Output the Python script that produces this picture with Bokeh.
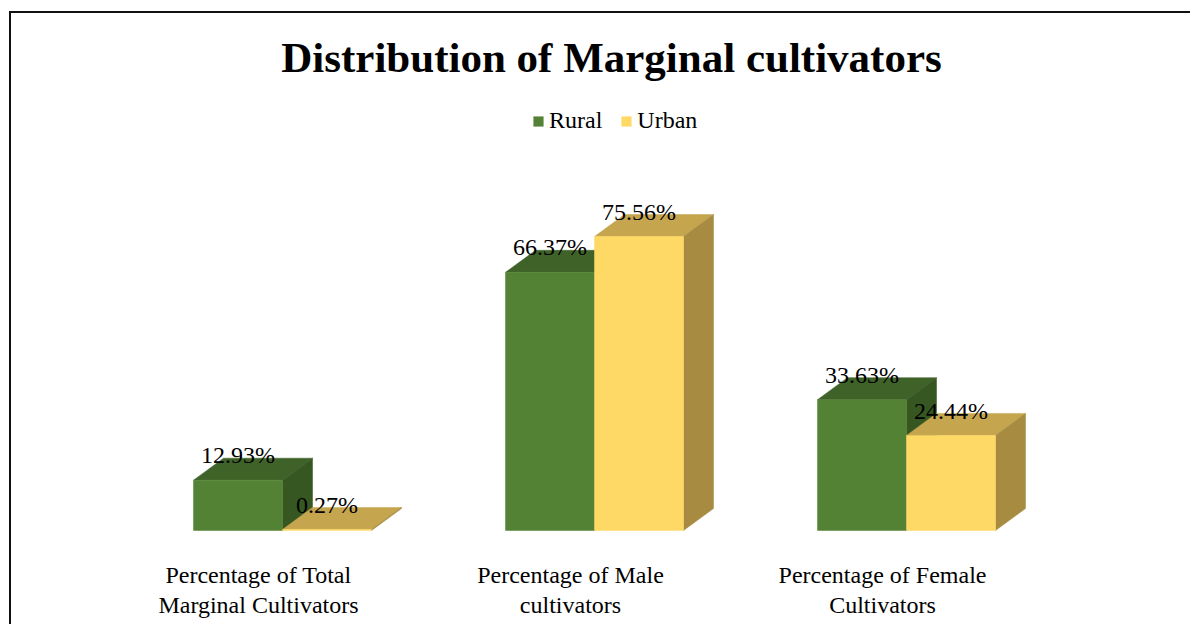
import numpy as np
from bokeh.plotting import figure
from bokeh.models import Range1d, Legend, LegendItem, Label, ColumnDataSource
from bokeh.core.properties import value
from bokeh.embed import file_html
from bokeh.resources import INLINE

# ---- data ----
categories = ["Percentage of Total\nMarginal Cultivators",
              "Percentage of Male\ncultivators",
              "Percentage of Female\nCultivators"]
rural = [12.93, 66.37, 33.63]
urban = [0.27, 75.56, 24.44]
series_names = ["Rural", "Urban"]
title_text = "Distribution of Marginal cultivators"

# ---- layout constants (pixels) ----
W, H = 1190, 624
PX_PER_X = 312.0          # pixels per category step
PX_PER_Y = 3.89           # pixels per percent
X0_PX = 282.0             # canvas x of first group center
BASE_PX = 530.0           # canvas y of baseline
FS = 24                   # small text size (px)
MID = 0.35                # middle-baseline offset (em)

def dx(px):
    return px / PX_PER_X

def dy(px):
    return px / PX_PER_Y

x_start = -X0_PX / PX_PER_X
x_end = (W - X0_PX) / PX_PER_X
y_start = -(H - BASE_PX) / PX_PER_Y
y_end = BASE_PX / PX_PER_Y

p = figure(width=W, height=H, output_backend="svg", toolbar_location=None,
           x_range=Range1d(x_start, x_end), y_range=Range1d(y_start, y_end),
           x_axis_type=None, y_axis_type=None, min_border=0)
p.outline_line_color = None
p.grid.visible = False
p.background_fill_color = "white"
p.border_fill_color = "white"

bar_w = dx(89)
depth_x = dx(30)
depth_y = dy(22)

colors = {
    "Rural": ("#548235", "#3f6229", "#365622"),
    "Urban": ("#ffd966", "#c5a64f", "#a68b40"),
}

idx = np.arange(len(categories), dtype=float)
front_renderers = []
for s, vals in zip(series_names, [rural, urban]):
    front, top, side = colors[s]
    lefts = idx - bar_w if s == "Rural" else idx
    rights = lefts + bar_w
    xs, ys = [], []
    sxs, sys_ = [], []
    for l, r, v in zip(lefts, rights, vals):
        xs.append([l, r, r + depth_x, l + depth_x])
        ys.append([v, v, v + depth_y, v + depth_y])
        sxs.append([r, r + depth_x, r + depth_x, r])
        sys_.append([0, depth_y, v + depth_y, v])
    p.patches(xs, ys, fill_color=top, line_color=top, line_width=0.5)
    p.patches(sxs, sys_, fill_color=side, line_color=side, line_width=0.5)
    src = ColumnDataSource(dict(left=lefts, right=rights, top=vals, bottom=[0] * len(vals)))
    fr = p.quad(left="left", right="right", top="top", bottom="bottom", source=src,
                fill_color=front, line_color=front, line_width=0.5)
    front_renderers.append(fr)
    # data labels
    lab = ColumnDataSource(dict(x=(lefts + rights) / 2,
                                y=np.array(vals) + dy(16.5 + MID * FS),
                                t=["%.2f%%" % v for v in vals]))
    p.text(x="x", y="y", text="t", source=lab, text_align="center",
           text_baseline="middle", text_font=value("Liberation Serif"),
           text_font_size="%dpx" % FS, text_color="black")

# category labels
cat_src = ColumnDataSource(dict(x=idx + dx(-24), y=[dy(-31)] * len(categories), t=categories))
p.text(x="x", y="y", text="t", source=cat_src, text_align="center",
       text_baseline="top", text_font=value("Liberation Serif"),
       text_font_size="%dpx" % FS, text_color="black", text_line_height=1.17)

# title
p.add_layout(Label(x=x_start + dx(611), y=y_end - dy(72 - MID * 43), text=title_text,
                   text_align="center", text_baseline="middle",
                   text_font="Liberation Serif", text_font_style="bold",
                   text_font_size="43px", text_color="black"))

# legend
legend = Legend(items=[LegendItem(label=n, renderers=[r]) for n, r in zip(series_names, front_renderers)],
                orientation="horizontal", location=(532, H - 134),
                glyph_width=12, glyph_height=12, label_standoff=5, spacing=18,
                padding=0, margin=0, border_line_color=None, background_fill_alpha=0,
                label_text_font="Liberation Serif", label_text_font_size="%dpx" % FS,
                label_text_color="black", label_height=24)
p.add_layout(legend, "center")

# chart-area border (only left & top edges fall inside the view)
bx = x_start + dx(9.5)
by = y_end - dy(11.5)
p.line([x_end + 1, bx, bx], [by, by, y_start - 10], line_color="#111111", line_width=2,
       line_join="miter")

open("out.html", "w").write(file_html(p, INLINE))
